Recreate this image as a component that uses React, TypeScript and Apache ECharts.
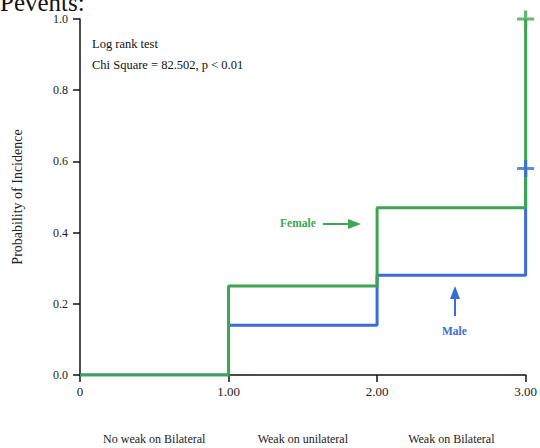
import React, { useEffect, useRef } from "react";
import * as echarts from "echarts";

const timePoints = [0, 1, 2, 3];
const femaleValues = [0, 0.25, 0.47, 1.0];
const maleValues = [0, 0.14, 0.28, 0.58];
const xTickLabels = ["0", "1.00", "2.00", "3.00"];
const stageLabels = ["No weak on Bilateral", "Weak on unilateral", "Weak on Bilateral"];

const GREEN = "#3DA54F";
const BLUE = "#3A6BDB";
const SERIF = "Liberation Serif";
const PLUS = "path://M0,6.5H16V9.5H0Z M6.5,0H9.5V16H6.5Z";

export default function App() {
  const ref = useRef<HTMLDivElement>(null);
  useEffect(() => {
    if (!ref.current) return;
    const chart = echarts.init(ref.current, null, { renderer: "svg" });
    const female = timePoints.map((t, i) => [t, femaleValues[i]]);
    const male = timePoints.map((t, i) => [t, maleValues[i]]);
    const last = timePoints.length - 1;
    chart.setOption({
      animation: false,
      backgroundColor: "#fff",
      textStyle: { fontFamily: SERIF },
      grid: { left: 80, right: 14, top: 19, bottom: 73 },
      xAxis: [
        {
          type: "value",
          min: 0,
          max: 3,
          interval: 1,
          splitLine: { show: false },
          axisLine: { show: true, onZero: false, lineStyle: { color: "#111", width: 1.5 } },
          axisTick: { show: true, length: 7, lineStyle: { color: "#111", width: 1.5 } },
          axisLabel: {
            margin: 10,
            color: "#222",
            fontFamily: SERIF,
            fontSize: 13,
            formatter: (v: number) => xTickLabels[Math.round(v)] ?? "",
          },
        },
        {
          type: "category",
          position: "bottom",
          offset: 58,
          data: stageLabels,
          boundaryGap: true,
          axisLine: { show: false },
          axisTick: { show: false },
          axisLabel: { color: "#222", fontFamily: SERIF, fontSize: 12, margin: 0 },
        },
      ],
      yAxis: {
        type: "value",
        min: 0,
        max: 1,
        interval: 0.2,
        name: "Probability of Incidence",
        nameLocation: "middle",
        nameGap: 56,
        nameTextStyle: { color: "#222", fontFamily: SERIF, fontSize: 14 },
        splitLine: { show: false },
        axisLine: { show: true, lineStyle: { color: "#111", width: 1.5 } },
        axisTick: { show: true, length: 7, lineStyle: { color: "#111", width: 1.5 } },
        axisLabel: {
          margin: 12,
          color: "#222",
          fontFamily: SERIF,
          fontSize: 12,
          formatter: (v: number) => v.toFixed(1),
        },
      },
      series: [
        {
          name: "Male",
          type: "line",
          step: "end",
          data: male,
          symbol: "none",
          z: 2,
          lineStyle: { color: BLUE, width: 3 },
        },
        {
          name: "Female",
          type: "line",
          step: "end",
          data: female,
          symbol: "none",
          z: 3,
          lineStyle: { color: GREEN, width: 3 },
        },
        {
          type: "scatter",
          data: [female[last]],
          symbol: PLUS,
          symbolSize: 17,
          z: 4,
          itemStyle: { color: GREEN },
        },
        {
          type: "scatter",
          data: [male[last]],
          symbol: PLUS,
          symbolSize: 17,
          z: 4,
          itemStyle: { color: BLUE },
        },
      ],
      graphic: [
        {
          type: "text",
          x: 0,
          y: -6.5,
          style: { text: "Pevents:", font: `25px ${SERIF}`, lineHeight: 18, fill: "#111" },
        },
        {
          type: "text",
          left: 92,
          top: 37,
          style: { text: "Log rank test", font: `12.5px ${SERIF}`, fill: "#111" },
        },
        {
          type: "text",
          left: 92,
          top: 58,
          style: { text: "Chi Square = 82.502, p < 0.01", font: `12.5px ${SERIF}`, fill: "#111" },
        },
        {
          type: "text",
          left: 280,
          top: 217,
          style: { text: "Female", font: `bold 11.5px ${SERIF}`, fill: GREEN },
        },
        {
          type: "line",
          shape: { x1: 323, y1: 224, x2: 350, y2: 224 },
          style: { stroke: GREEN, lineWidth: 2 },
        },
        {
          type: "polygon",
          shape: { points: [[348, 219], [361, 224], [348, 229]] },
          style: { fill: GREEN },
        },
        {
          type: "text",
          left: 442,
          top: 325,
          style: { text: "Male", font: `bold 11.5px ${SERIF}`, fill: BLUE },
        },
        {
          type: "line",
          shape: { x1: 455, y1: 316, x2: 455, y2: 297 },
          style: { stroke: BLUE, lineWidth: 2 },
        },
        {
          type: "polygon",
          shape: { points: [[450, 299], [455, 286], [460, 299]] },
          style: { fill: BLUE },
        },
      ],
    });
    return () => chart.dispose();
  }, []);
  return (
    <div
      ref={ref}
      style={{ position: "fixed", left: 0, top: 0, width: 540, height: 448 }}
    />
  );
}
